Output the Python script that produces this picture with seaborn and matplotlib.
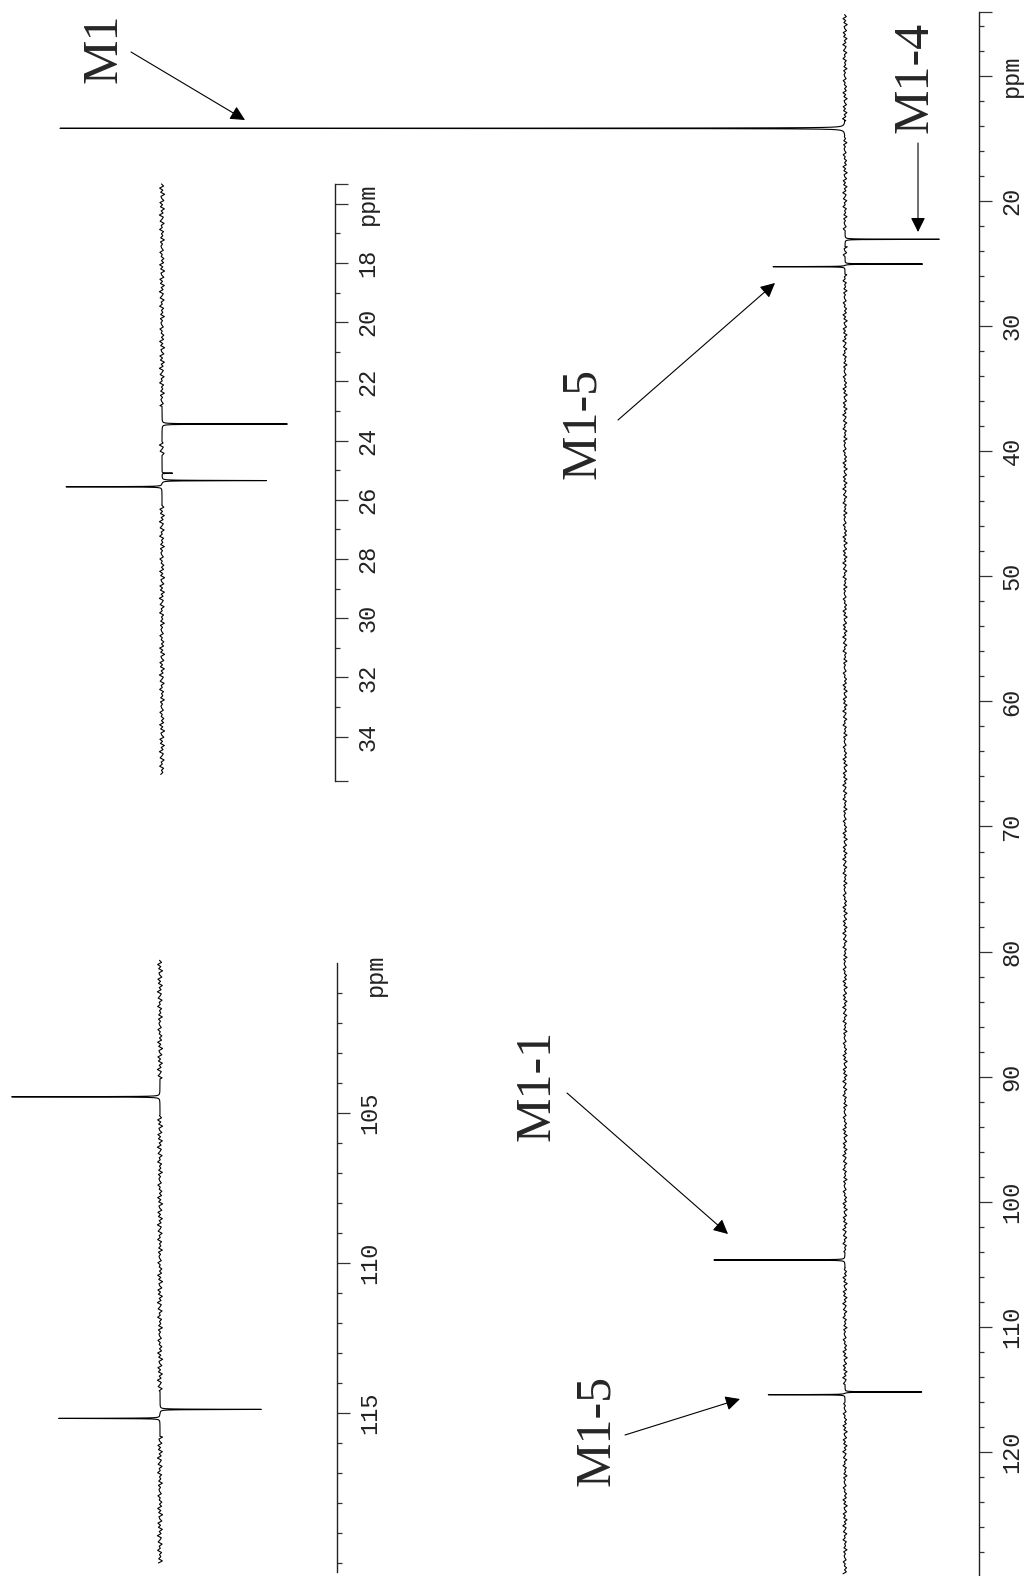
import numpy as np
import pandas as pd
import matplotlib
matplotlib.use("Agg")
import matplotlib.pyplot as plt
import seaborn as sns

# full 13C spectrum: peak shifts (ppm) and signed heights (M1 = 1)
main_shift = [14.19, 23.06, 25.04, 25.25, 104.65, 115.20, 115.42]
main_height = [1.0, -0.120, -0.099, 0.092, 0.167, -0.098, 0.098]

# expansion 15-35 ppm
upper_shift = [23.44, 25.10, 25.35, 25.56]
upper_height = [-0.120, -0.010, -0.100, 0.092]

# expansion 100-120 ppm
lower_shift = [104.45, 114.87, 115.17]
lower_height = [0.142, -0.097, 0.097]

main_ticks = [10, 20, 30, 40, 50, 60, 70, 80, 90, 100, 110, 120]
main_labels = ["ppm", "20", "30", "40", "50", "60", "70", "80", "90", "100", "110", "120"]
upper_ticks = [16, 18, 20, 22, 24, 26, 28, 30, 32, 34]
upper_labels = ["ppm", "18", "20", "22", "24", "26", "28", "30", "32", "34"]
lower_ticks = [105, 110, 115]
lower_labels = ["105", "110", "115"]

# baseline ripple texture
noise_pattern = [0.2, -0.6, 0.9, -0.3, 0.5, -1.0, 0.4, 0.1, -0.7, 0.8, -0.2,
                 0.6, -0.9, 0.3, -0.4, 1.0, -0.5, 0.0, 0.7, -0.8, 0.3, -0.1,
                 0.9, -0.6, 0.2, -0.3, 0.5, -0.9, 0.6, -0.2, 0.4, 0.1, -0.5,
                 0.8, -0.1, 0.3, -0.7]

# (label, text centre, arrow start, arrow tip) in image pixels
callouts = [
    ("M1", (104, 48), (131, 52), (245, 120)),
    ("M1-4", (915, 77), (918, 143), (918, 232)),
    ("M1-5", (583, 423), (618, 420), (775, 283)),
    ("M1-1", (537, 1085), (567, 1093), (728, 1234)),
    ("M1-5", (597, 1430), (625, 1435), (740, 1399)),
]

W, H = 1026, 1576


def build_trace(lo, hi, step, shifts, heights, width, noise_amp):
    coarse = np.arange(lo, hi, step)
    noise = np.resize(np.array(noise_pattern), coarse.size) * noise_amp
    near = np.min(np.abs(coarse[:, None] - np.array(shifts)[None, :]), axis=1) < 0.6
    noise[near] = 0.0
    fine = np.concatenate([np.linspace(s - 0.6, s + 0.6, 601) for s in shifts])
    ppm = np.concatenate([coarse, fine])
    sig = np.concatenate([noise, np.zeros(fine.size)])
    order = np.argsort(ppm)
    ppm, sig = ppm[order], sig[order]
    for s, h in zip(shifts, heights):
        sig = sig + h * width ** 2 / ((ppm - s) ** 2 + width ** 2)
    return pd.DataFrame({"ppm": ppm, "intensity": sig})


def style_scale(ax, ticks, labels, minor, bounds, caps, fs, pad, spine_x=1.0):
    for side in ["top", "bottom", "left"]:
        ax.spines[side].set_visible(False)
    ax.spines["right"].set_position(("axes", spine_x))
    ax.spines["right"].set_bounds(*bounds)
    ax.spines["right"].set_linewidth(1.0)
    ax.spines["right"].set_color("#222222")
    ax.yaxis.set_ticks_position("right")
    ax.set_yticks(list(ticks) + list(caps), list(labels) + [""] * len(caps),
                  fontfamily="Liberation Mono", fontsize=fs, color="#222222")
    ax.set_yticks(minor, minor=True)
    ax.tick_params(axis="y", which="major", direction="out", length=9.4,
                   width=0.9, color="#333333", pad=pad, labelrotation=90)
    ax.tick_params(axis="y", which="minor", direction="out", length=3.6,
                   width=0.9, color="#333333")
    for lab in ax.get_yticklabels():
        lab.set_va("center")
        lab.set_ha("left")
    ax.set_xticks([])
    ax.set_xlabel("")
    ax.set_ylabel("")
    ax.patch.set_alpha(0)


sns.set_style("white")
fig = plt.figure(figsize=(W / 100, H / 100), dpi=100)

# main spectrum, 12.51 px per ppm, 20 ppm at y=201, baseline x=845
ax = fig.add_axes([0, 0, 1, 1])
main_df = build_trace(5.1, 129.9, 0.16, main_shift, main_height, 0.012, 0.0028)
sns.lineplot(data=main_df, x="intensity", y="ppm", orient="y", sort=False,
             estimator=None, color="black", lw=0.8, ax=ax)
ax.set_ylim(20 + (H - 201) / 12.51, 20 - 201 / 12.51)
ax.set_xlim(845 / 785, (845 - W) / 785)
style_scale(ax, main_ticks, main_labels, list(range(6, 130, 2)),
            (4.93, 129.9), [4.93], 17, 6, spine_x=979 / W)

# upper expansion, 29.6 px per ppm, 18 ppm at y=263, baseline x=162
y0, y1 = 175, 790
ax_u = fig.add_axes([0, 1 - y1 / H, 335 / W, (y1 - y0) / H])
up_df = build_trace(15.33, 35.3, 0.07, upper_shift, upper_height, 0.006, 0.0025)
sns.lineplot(data=up_df, x="intensity", y="ppm", orient="y", sort=False,
             estimator=None, color="black", lw=0.8, ax=ax_u)
ax_u.set_ylim(18 + (y1 - 263) / 29.6, 18 - (263 - y0) / 29.6)
ax_u.set_xlim(162 / 1044, (162 - 335) / 1044)
style_scale(ax_u, upper_ticks, upper_labels, list(range(17, 35, 2)),
            (15.33, 35.5), [15.33, 35.5], 17, 6)

# lower expansion, 30 px per ppm, 105 ppm at y=1113, baseline x=160
y0, y1 = 955, 1576
ax_l = fig.add_axes([0, 1 - y1 / H, 337 / W, (y1 - y0) / H])
lo_df = build_trace(99.9, 120.0, 0.07, lower_shift, lower_height, 0.006, 0.0025)
sns.lineplot(data=lo_df, x="intensity", y="ppm", orient="y", sort=False,
             estimator=None, color="black", lw=0.8, ax=ax_l)
ax_l.set_ylim(105 + (y1 - 1113.3) / 30, 105 - (1113.3 - y0) / 30)
ax_l.set_xlim(160 / 1044, (160 - 337) / 1044)
style_scale(ax_l, lower_ticks, lower_labels, list(range(101, 121)),
            (100.0, 120.3), [], 17, 6)
ax_l.text(1.115, 100.4, "ppm", transform=ax_l.get_yaxis_transform(),
          rotation=90, ha="center", va="center", fontsize=17,
          fontfamily="Liberation Mono", color="#222222")

# peak assignments
for label, (tx, ty), (ax0, ay0), (ax1, ay1) in callouts:
    fig.text(tx / W, 1 - ty / H, label, rotation=90, ha="center", va="center",
             fontsize=36, fontfamily="Liberation Serif")
    fig.add_artist(matplotlib.patches.FancyArrowPatch(
        (ax0 / W, 1 - ay0 / H), (ax1 / W, 1 - ay1 / H),
        transform=fig.transFigure, arrowstyle="-|>", mutation_scale=22,
        lw=0.8, color="black", shrinkA=0, shrinkB=0))

fig.savefig("out.png", dpi=100)
plt.close(fig)
